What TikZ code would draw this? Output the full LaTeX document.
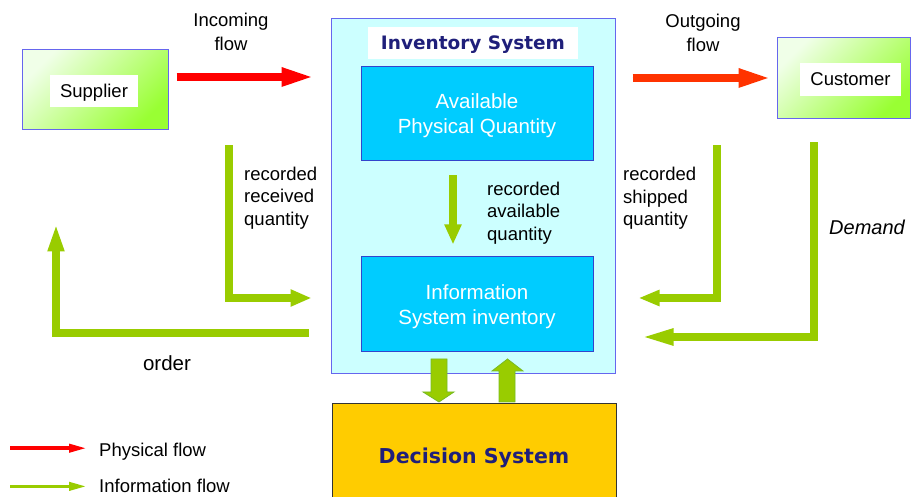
\documentclass[tikz,border=0pt]{standalone}
\usepackage{fontspec}
\setmainfont{Liberation Sans}
\newfontfamily\verd{DejaVu Sans}
\usetikzlibrary{arrows.meta,calc}
\definecolor{infogreen}{HTML}{99CC00}
\definecolor{physred}{HTML}{FF0000}
\definecolor{physred2}{HTML}{FF3300}
\definecolor{invfill}{HTML}{CCFFFF}
\definecolor{invborder}{HTML}{6666EE}
\definecolor{boxblue}{HTML}{00CCFF}
\definecolor{boxborder}{HTML}{3344CC}
\definecolor{navy}{HTML}{1F1F7A}
\definecolor{decfill}{HTML}{FFCC00}
\definecolor{gradlight}{HTML}{F0FFE8}
\definecolor{graddark}{HTML}{99FF33}
\definecolor{arrowedge}{HTML}{77BB22}
\tikzset{
  txt/.style={font=\fontsize{18.5}{22.5}\selectfont, inner sep=0pt},
  gbox/.style={draw=invborder, line width=1pt, top color=gradlight, bottom color=graddark, shading angle=45, inner sep=0pt},
  wlabel/.style={fill=white, inner sep=0pt, text depth=0pt, font=\fontsize{18.5}{22.5}\selectfont},
  cyanbox/.style={draw=boxborder, line width=1pt, fill=boxblue, text=white, inner sep=0pt, text depth=0pt, align=center, font=\fontsize{20.5}{25}\selectfont},
  grn/.style={draw=infogreen, line width=7.5pt, line join=miter},
  redarr/.style={draw=physred, line width=8pt, -{Triangle[length=33pt,width=17pt]}},
  blockarr/.style={fill=infogreen, draw=arrowedge, line width=0.8pt, line join=miter},
}
\begin{document}
\begin{tikzpicture}[x=1pt,y=1pt]
\useasboundingbox (0,0) rectangle (911,497);
\clip (0,0) rectangle (911,497);
\fill[white] (0,0) rectangle (911,497);

% Supplier and customer
\node[gbox, minimum width=146pt, minimum height=80pt] (sup) at (95,407) {};
\node[wlabel, minimum width=88pt, minimum height=32pt] (supl) at (94,406) {Supplier};
\node[gbox, minimum width=133pt, minimum height=81pt] (cus) at (843.5,418.5) {};
\node[wlabel, minimum width=101pt, minimum height=33pt] (cusl) at (850.5,417.5) {Customer};

% Inventory system
\node[draw=invborder, line width=1pt, fill=invfill, minimum width=284pt, minimum height=355pt, inner sep=0pt] (inv) at (473,300.5) {};
\node[fill=white, minimum width=210pt, minimum height=32pt, inner sep=0pt, text depth=0pt, text=navy, font=\verd\bfseries\fontsize{18.5}{22}\selectfont] (title) at (473,454) {Inventory System};
\node[cyanbox, minimum width=232pt, minimum height=94pt] (apq) at (477,383) {Available\\Physical Quantity};
\node[cyanbox, minimum width=232pt, minimum height=95pt] (isi) at (477,192.5) {Information\\System inventory};

% Decision system
\node[draw=black!80, line width=1pt, fill=decfill, minimum width=284pt, minimum height=113pt, inner sep=0pt] (dec) at (474,36.5) {};
\node[text=navy, font=\verd\bfseries\fontsize{20.5}{24}\selectfont, inner sep=0pt, text depth=0pt] (dect) at (474,41) {Decision System};

% block arrows between ISI and decision system
\draw[blockarr] (431,138) -- (447,138) -- (447,105) -- (454,105) -- (439,95) -- (423,105) -- (431,105) -- cycle;
\draw[blockarr] (499,95) -- (515,95) -- (515,126) -- (523,126) -- (507.5,138) -- (492,126) -- (499,126) -- cycle;

% physical flows
\draw[redarr, shorten <=8pt, shorten >=16pt] (sup.east |- 0,420) -- (inv.west |- 0,420);
\draw[redarr, draw=physred2, fill=physred2, shorten <=17pt, shorten >=5pt] (inv.east |- 0,419) -- (cus.west |- 0,419);
\node[txt, align=center, font=\fontsize{18.5}{23.5}\selectfont] (inc) at (231,465) {Incoming\\flow};
\node[txt, align=center, font=\fontsize{18.5}{23.5}\selectfont] (outg) at (703,464) {Outgoing\\flow};

% information flows
\draw[grn, -{Triangle[length=20pt,width=16pt]}, shorten <=14pt, shorten >=12pt] (apq.south -| 453,0) -- (isi.north -| 453,0);
\draw[grn, -{Triangle[length=21pt,width=16pt]}, shorten <=15pt, shorten >=19pt] (sup.south -| 229,0) |- (inv.west |- 0,199);
\draw[grn, -{Triangle[length=28pt,width=15pt]}, shorten <=22pt, shorten >=93pt] (inv.west |- 0,164) -| (sup.south -| 56,0);
\draw[grn, -{Triangle[length=21pt,width=15pt]}, shorten <=26pt, shorten >=23pt] (cus.south -| 717,0) |- (inv.east |- 0,199);
\draw[grn, -{Triangle[length=33pt,width=15pt]}, shorten <=23pt, shorten >=25pt] (cus.south -| 814,0) |- (inv.east |- 0,160);

\node[txt, align=left, anchor=west] (rav) at (487,284) {recorded\\available\\quantity};
\node[txt, align=left, anchor=west] (rrq) at (244,299) {recorded\\received\\quantity};
\node[txt, align=left, anchor=west] (rsq) at (623,298.5) {recorded\\shipped\\quantity};
\node[txt, anchor=west, font=\itshape\fontsize{20}{24}\selectfont] (dem) at (829,270) {Demand};
\node[txt, font=\fontsize{20.5}{24}\selectfont] (ord) at (167,134) {order};

% legend
\node[txt, anchor=base west] (lg1) at (99,40) {Physical flow};
\node[txt, anchor=base west] (lg2) at (99,4) {Information flow};
\draw[draw=physred, line width=3.7pt, -{Triangle[length=18pt,width=8pt]}] ($(lg1.west -| 10,0)+(0,4)$) -- ($(lg1.west -| 87,0)+(0,4)$);
\draw[draw=infogreen, line width=3.7pt, -{Triangle[length=18pt,width=8pt]}] ($(lg2.west -| 10,0)+(0,0)$) -- ($(lg2.west -| 87,0)+(0,0)$);
\end{tikzpicture}
\end{document}
